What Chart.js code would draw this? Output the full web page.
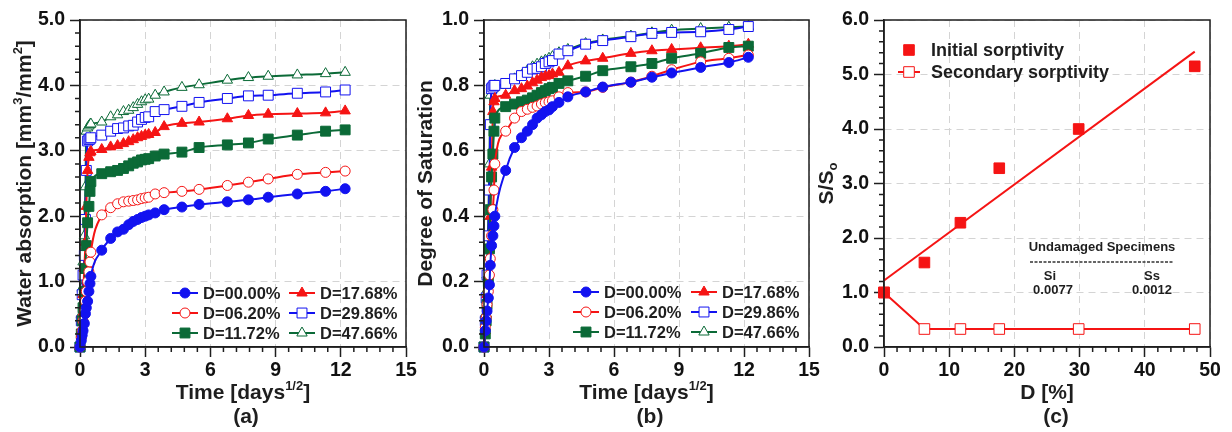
<!DOCTYPE html>
<html lang="en">
<head>
<meta charset="UTF-8">
<title>Water absorption and sorptivity</title>
<style>
  body { margin: 0; background: #fff; }
  .wrap { position: relative; width: 1232px; height: 432px; overflow: hidden; }
  canvas { position: absolute; top: 0; }
</style>
</head>
<body>
<div class="wrap">
  <canvas id="chartA" style="left:0px" width="420" height="432"></canvas>
  <canvas id="chartB" style="left:410px" width="412" height="432"></canvas>
  <canvas id="chartC" style="left:812px" width="420" height="432"></canvas>
</div>
<script src="https://cdn.jsdelivr.net/npm/chart.js"></script>
<script>
// ---- data ----
// time axis, sqrt(days)
const timeSqrtDays = [0, 0.06, 0.1, 0.14, 0.2, 0.25, 0.29, 0.35, 0.41, 0.46, 0.5,
  1.0, 1.41, 1.73, 2.0, 2.24, 2.45, 2.65, 2.83, 3.0, 3.16,
  3.46, 3.87, 4.69, 5.48, 6.78, 7.75, 8.66, 10.0, 11.3, 12.2];

const seriesLabels = ['D=00.00%', 'D=06.20%', 'D=11.72%', 'D=17.68%', 'D=29.86%', 'D=47.66%'];

// (a) water absorption [mm3/mm2]
const absorbD00 = [0, 0.1, 0.18, 0.25, 0.36, 0.51, 0.6, 0.7, 0.85, 0.97, 1.08,
  1.48, 1.66, 1.76, 1.80, 1.87, 1.92, 1.95, 1.98, 2.0, 2.02,
  2.05, 2.10, 2.14, 2.18, 2.22, 2.25, 2.29, 2.34, 2.38, 2.42];
const absorbD06 = [0, 0.15, 0.25, 0.4, 0.55, 0.7, 0.85, 1.0, 1.15, 1.3, 1.45,
  2.02, 2.13, 2.19, 2.22, 2.23, 2.24, 2.25, 2.27, 2.28, 2.29,
  2.34, 2.36, 2.38, 2.41, 2.47, 2.52, 2.57, 2.64, 2.67, 2.69];
const absorbD11 = [0, 0.2, 0.4, 0.6, 0.85, 1.2, 1.55, 1.9, 2.15, 2.38, 2.53,
  2.65, 2.68, 2.70, 2.73, 2.77, 2.81, 2.83, 2.86, 2.87, 2.88,
  2.92, 2.95, 2.98, 3.05, 3.09, 3.12, 3.18, 3.24, 3.30, 3.32];
const absorbD17 = [0, 0.25, 0.5, 0.8, 1.2, 1.6, 2.15, 2.7, 2.9, 2.97, 2.99,
  3.02, 3.06, 3.08, 3.11, 3.14, 3.17, 3.20, 3.22, 3.24, 3.25,
  3.28, 3.37, 3.42, 3.44, 3.49, 3.54, 3.56, 3.57, 3.58, 3.61];
const absorbD29 = [0, 0.4, 0.8, 1.1, 1.4, 1.95, 2.7, 3.15, 3.17, 3.18, 3.2,
  3.24, 3.30, 3.34, 3.35, 3.38, 3.39, 3.44, 3.48, 3.51, 3.52,
  3.60, 3.63, 3.68, 3.74, 3.80, 3.84, 3.85, 3.88, 3.90, 3.93];
const absorbD47 = [0, 0.5, 0.9, 1.3, 1.7, 2.45, 3.3, 3.35, 3.38, 3.40, 3.41,
  3.44, 3.52, 3.55, 3.60, 3.62, 3.66, 3.71, 3.75, 3.78, 3.79,
  3.85, 3.90, 3.97, 4.01, 4.08, 4.12, 4.14, 4.16, 4.18, 4.20];

// (b) degree of saturation
const satD00 = [0, 0.05, 0.08, 0.11, 0.15, 0.19, 0.25, 0.31, 0.34, 0.37, 0.40,
  0.54, 0.61, 0.64, 0.66, 0.68, 0.70, 0.71, 0.72, 0.725, 0.735,
  0.748, 0.765, 0.78, 0.795, 0.81, 0.825, 0.838, 0.855, 0.87, 0.886];
const satD06 = [0, 0.06, 0.09, 0.13, 0.17, 0.22, 0.27, 0.34, 0.42, 0.48, 0.56,
  0.66, 0.70, 0.72, 0.727, 0.733, 0.737, 0.743, 0.747, 0.75, 0.753,
  0.765, 0.778, 0.78, 0.794, 0.81, 0.828, 0.848, 0.872, 0.883, 0.893];
const satD11 = [0, 0.04, 0.08, 0.13, 0.2, 0.3, 0.42, 0.52, 0.59, 0.66, 0.70,
  0.735, 0.743, 0.75, 0.755, 0.762, 0.77, 0.778, 0.784, 0.79, 0.794,
  0.806, 0.814, 0.828, 0.845, 0.857, 0.867, 0.883, 0.898, 0.916, 0.92];
const satD17 = [0, 0.05, 0.1, 0.16, 0.22, 0.3, 0.4, 0.55, 0.72, 0.75, 0.76,
  0.77, 0.784, 0.79, 0.798, 0.808, 0.816, 0.824, 0.828, 0.83, 0.835,
  0.84, 0.86, 0.875, 0.883, 0.898, 0.906, 0.91, 0.915, 0.92, 0.926];
const satD29 = [0, 0.08, 0.15, 0.22, 0.34, 0.48, 0.68, 0.79, 0.795, 0.80, 0.80,
  0.806, 0.82, 0.83, 0.84, 0.85, 0.852, 0.857, 0.867, 0.872, 0.876,
  0.896, 0.906, 0.926, 0.937, 0.949, 0.959, 0.962, 0.964, 0.971, 0.98];
const satD47 = [0, 0.1, 0.17, 0.22, 0.4, 0.56, 0.77, 0.785, 0.79, 0.795, 0.80,
  0.80, 0.82, 0.83, 0.845, 0.857, 0.865, 0.872, 0.877, 0.883, 0.888,
  0.90, 0.91, 0.928, 0.939, 0.951, 0.961, 0.969, 0.974, 0.978, 0.98];

// (c) sorptivity ratio vs damage
const damagePct = [0, 6.2, 11.72, 17.68, 29.86, 47.66];
const initialRatio = [1.0, 1.55, 2.28, 3.28, 4.0, 5.15];
const secondaryRatio = [1.0, 0.33, 0.33, 0.33, 0.33, 0.33];
const fitDamage = [0, 47.66];
const fitInitial = [1.22, 5.42];

// ---- styles ----
const BLUE = '#1212f0', RED = '#f51414', GREEN = '#0b6a37', INK = '#1e1e1e';
const FONT = '"Liberation Sans", Arial, sans-serif';
Chart.defaults.font.family = FONT;

const styles = [
  { color: BLUE, shape: 'circle', filled: true, r: 5 },
  { color: RED, shape: 'circle', filled: false, r: 5 },
  { color: GREEN, shape: 'rect', filled: true, r: 7 },
  { color: RED, shape: 'triangle', filled: true, r: 6 },
  { color: BLUE, shape: 'rect', filled: false, r: 7 },
  { color: GREEN, shape: 'triangle', filled: false, r: 6 }
];

function lineSets(seriesList) {
  return seriesList.map((vals, k) => {
    const s = styles[k];
    return {
      label: seriesLabels[k],
      data: timeSqrtDays.map((t, i) => ({ x: t, y: vals[i] })),
      borderColor: s.color,
      borderWidth: 2,
      pointStyle: s.shape,
      pointRadius: s.r,
      pointBackgroundColor: s.filled ? s.color : '#fff',
      pointBorderColor: s.color,
      pointBorderWidth: 1,
      cubicInterpolationMode: 'monotone',
      clip: false
    };
  });
}

function drawMarker(ctx, s, x, y) {
  ctx.save();
  ctx.fillStyle = s.filled ? s.color : '#fff';
  ctx.strokeStyle = s.color;
  ctx.lineWidth = 1;
  ctx.beginPath();
  if (s.shape === 'circle') {
    ctx.arc(x, y, s.r, 0, Math.PI * 2);
  } else if (s.shape === 'rect') {
    const h = s.r * Math.SQRT1_2;
    ctx.rect(x - h, y - h, 2 * h, 2 * h);
  } else {
    let a = 0;
    ctx.moveTo(x + Math.sin(a) * s.r, y - Math.cos(a) * s.r);
    a += Math.PI * 2 / 3;
    ctx.lineTo(x + Math.sin(a) * s.r, y - Math.cos(a) * s.r);
    a += Math.PI * 2 / 3;
    ctx.lineTo(x + Math.sin(a) * s.r, y - Math.cos(a) * s.r);
    ctx.closePath();
  }
  ctx.fill();
  ctx.stroke();
  ctx.restore();
}

// text with superscript / subscript parts, centred on (cx, cy)
function drawRich(ctx, parts, cx, cy, size, rotate) {
  const big = `bold ${size}px ${FONT}`;
  const small = `bold ${Math.round(size * 0.62)}px ${FONT}`;
  ctx.save();
  ctx.translate(cx, cy);
  if (rotate) ctx.rotate(-Math.PI / 2);
  ctx.fillStyle = INK;
  ctx.textBaseline = 'alphabetic';
  ctx.textAlign = 'left';
  let total = 0;
  const widths = parts.map(p => {
    ctx.font = (p.sup || p.sub) ? small : big;
    const w = ctx.measureText(p.t).width;
    total += w;
    return w;
  });
  let x = -total / 2;
  const base = size * 0.36;
  parts.forEach((p, i) => {
    ctx.font = (p.sup || p.sub) ? small : big;
    const dy = p.sup ? -size * 0.4 : p.sub ? size * 0.22 : 0;
    ctx.fillText(p.t, x, base + dy);
    x += widths[i];
  });
  ctx.restore();
}

function seriesLegend(x1, x2, rows) {
  return (ctx) => {
    ctx.save();
    ctx.font = `bold 16.5px ${FONT}`;
    ctx.textBaseline = 'middle';
    ctx.fillStyle = INK;
    styles.forEach((s, k) => {
      const x0 = k < 3 ? x1 : x2;
      const y = rows[k % 3];
      ctx.strokeStyle = s.color;
      ctx.lineWidth = 2;
      ctx.beginPath();
      ctx.moveTo(x0, y);
      ctx.lineTo(x0 + 26, y);
      ctx.stroke();
      drawMarker(ctx, s, x0 + 13, y);
      ctx.fillStyle = INK;
      ctx.fillText(seriesLabels[k], x0 + 31, y + 1);
    });
    ctx.restore();
  };
}

function makeDecor(cfg) {
  return {
    id: 'decor',
    afterDraw(chart) {
      const ctx = chart.ctx;
      const a = chart.chartArea;
      const xs = chart.scales.x, ys = chart.scales.y;
      ctx.save();
      ctx.strokeStyle = INK;
      ctx.lineWidth = 1.5;
      ctx.strokeRect(a.left, a.top, a.right - a.left, a.bottom - a.top);
      // minor ticks
      ctx.beginPath();
      const nx = Math.round((xs.max - xs.min) / cfg.xMinor);
      const ex = Math.round(cfg.xMajor / cfg.xMinor);
      for (let i = 0; i <= nx; i++) {
        if (i % ex === 0) continue;
        const px = xs.getPixelForValue(xs.min + i * cfg.xMinor);
        ctx.moveTo(px, a.bottom);
        ctx.lineTo(px, a.bottom + 5);
      }
      const ny = Math.round((ys.max - ys.min) / cfg.yMinor);
      const ey = Math.round(cfg.yMajor / cfg.yMinor);
      for (let i = 0; i <= ny; i++) {
        if (i % ey === 0) continue;
        const py = ys.getPixelForValue(ys.min + i * cfg.yMinor);
        ctx.moveTo(a.left - 5, py);
        ctx.lineTo(a.left, py);
      }
      ctx.stroke();
      drawRich(ctx, cfg.yTitle, cfg.yTitleX, (a.top + a.bottom) / 2, 21, true);
      drawRich(ctx, cfg.xTitle, (a.left + a.right) / 2, 391, 21, false);
      drawRich(ctx, [{ t: cfg.panel }], cfg.panelX, 415, 21, false);
      if (cfg.extra) cfg.extra(ctx, chart);
      ctx.restore();
    }
  };
}

function axis(min, max, step, decimals, fitSize, horizontal) {
  return {
    type: 'linear',
    min: min,
    max: max,
    afterFit: s => { if (horizontal) s.height = fitSize; else s.width = fitSize; },
    ticks: {
      stepSize: step,
      autoSkip: false,
      maxRotation: 0,
      padding: horizontal ? 2 : 5,
      color: '#111',
      font: { size: 19.5, weight: 'bold' },
      callback: v => v.toFixed(decimals)
    },
    grid: {
      color: '#d4d4d4',
      lineWidth: 1,
      tickColor: INK,
      tickWidth: 1.5,
      tickLength: 10
    },
    border: { color: INK, width: 1.5, dash: [7, 5] }
  };
}

function baseOptions(xAxis, yAxis, padRight) {
  return {
    responsive: false,
    animation: false,
    layout: { padding: { left: 0, right: padRight, top: 20, bottom: 0 } },
    plugins: { legend: { display: false }, tooltip: { enabled: false } },
    scales: { x: xAxis, y: yAxis }
  };
}

const timeTitle = [{ t: 'Time [days' }, { t: '1/2', sup: true }, { t: ']' }];

// (a)
new Chart(document.getElementById('chartA'), {
  type: 'line',
  data: { datasets: lineSets([absorbD00, absorbD06, absorbD11, absorbD17, absorbD29, absorbD47]) },
  options: baseOptions(axis(0, 15, 3, 0, 85, true), axis(0, 5, 1, 1, 80, false), 14),
  plugins: [makeDecor({
    xMinor: 0.6, xMajor: 3, yMinor: 0.2, yMajor: 1,
    yTitle: [{ t: 'Water absorption [mm' }, { t: '3', sup: true }, { t: '/mm' }, { t: '2', sup: true }, { t: ']' }],
    yTitleX: 23,
    xTitle: timeTitle,
    panel: '(a)', panelX: 246,
    extra: seriesLegend(172, 289, [293, 313, 333])
  })]
});

// (b)
new Chart(document.getElementById('chartB'), {
  type: 'line',
  data: { datasets: lineSets([satD00, satD06, satD11, satD17, satD29, satD47]) },
  options: baseOptions(axis(0, 15, 3, 0, 85, true), axis(0, 1, 0.2, 1, 74, false), 13),
  plugins: [makeDecor({
    xMinor: 0.6, xMajor: 3, yMinor: 0.04, yMajor: 0.2,
    yTitle: [{ t: 'Degree of Saturation' }],
    yTitleX: 14,
    xTitle: timeTitle,
    panel: '(b)', panelX: 240,
    extra: seriesLegend(163, 281, [292, 312, 332])
  })]
});

// (c)
const initialStyle = { color: RED, shape: 'rect', filled: true, r: 7.5 };
const secondaryStyle = { color: RED, shape: 'rect', filled: false, r: 7.5 };

function sorptivityNotes(ctx) {
  ctx.save();
  ctx.fillStyle = INK;
  ctx.textBaseline = 'middle';
  // legend
  ctx.font = `bold 18px ${FONT}`;
  drawMarker(ctx, initialStyle, 97, 50);
  ctx.fillText('Initial sorptivity', 119, 51);
  ctx.strokeStyle = RED;
  ctx.lineWidth = 2;
  ctx.beginPath();
  ctx.moveTo(86, 72);
  ctx.lineTo(108, 72);
  ctx.stroke();
  drawMarker(ctx, secondaryStyle, 97, 72);
  ctx.fillStyle = INK;
  ctx.fillText('Secondary sorptivity', 119, 73);
  // undamaged specimens note
  ctx.font = `bold 13px ${FONT}`;
  ctx.textAlign = 'center';
  ctx.fillText('Undamaged Specimens', 290, 247);
  ctx.strokeStyle = '#333';
  ctx.lineWidth = 1.5;
  ctx.setLineDash([3, 1.5]);
  ctx.beginPath();
  ctx.moveTo(218, 262);
  ctx.lineTo(362, 262);
  ctx.stroke();
  ctx.setLineDash([]);
  ctx.fillText('Si', 238, 276);
  ctx.fillText('0.0077', 241, 290);
  ctx.fillText('Ss', 340, 276);
  ctx.fillText('0.0012', 340, 290);
  ctx.restore();
}

new Chart(document.getElementById('chartC'), {
  type: 'line',
  data: {
    datasets: [
      {
        label: 'Initial sorptivity',
        data: damagePct.map((d, i) => ({ x: d, y: initialRatio[i] })),
        showLine: false,
        pointStyle: 'rect',
        pointRadius: 7.5,
        pointBackgroundColor: RED,
        pointBorderColor: RED,
        pointBorderWidth: 1,
        clip: false
      },
      {
        label: 'Initial fit',
        data: fitDamage.map((d, i) => ({ x: d, y: fitInitial[i] })),
        borderColor: RED,
        borderWidth: 2,
        pointRadius: 0,
        clip: false
      },
      {
        label: 'Secondary sorptivity',
        data: damagePct.map((d, i) => ({ x: d, y: secondaryRatio[i] })),
        borderColor: RED,
        borderWidth: 2,
        pointStyle: 'rect',
        pointRadius: 7.5,
        pointBackgroundColor: '#fff',
        pointBorderColor: RED,
        pointBorderWidth: 1,
        clip: false
      }
    ]
  },
  options: baseOptions(axis(0, 50, 10, 0, 85, true), axis(0, 6, 1, 1, 72, false), 22),
  plugins: [makeDecor({
    xMinor: 2, xMajor: 10, yMinor: 0.2, yMajor: 1,
    yTitle: [{ t: 'S/S' }, { t: 'o', sub: true }],
    yTitleX: 13,
    xTitle: [{ t: 'D [%]' }],
    panel: '(c)', panelX: 244,
    extra: sorptivityNotes
  })]
});
</script>
</body>
</html>
